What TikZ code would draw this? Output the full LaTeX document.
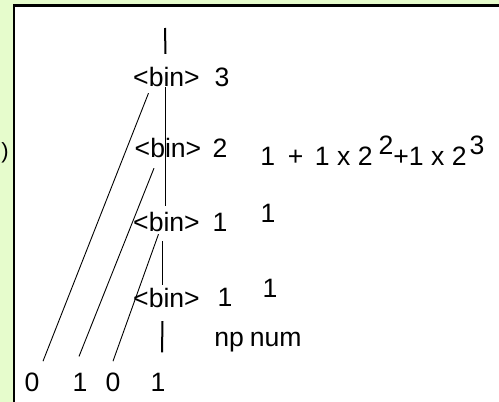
\documentclass[tikz,border=0pt]{standalone}
\usepackage{fontspec}
\setmainfont{Liberation Sans}
\definecolor{bggreen}{RGB}{230,252,204}
\begin{document}
\begin{tikzpicture}[x=0.5pt, y=-0.5pt,
		lbl/.style={font=\fontsize{13.3}{16}\selectfont, inner sep=0pt},
		thickline/.style={line width=1pt},
		thinline/.style={line width=0.45pt}]
			\useasboundingbox (0,0) rectangle (499,402);
			\clip (0,0) rectangle (499,402);
			% Khung
			\fill[bggreen] (0,0) rectangle (499,402);
			\filldraw[fill=white, draw=black, line width=1.35pt] (14,5.3) rectangle (540,440);
			\node[lbl, font=\fontsize{11}{13}\selectfont] (paren) at (5,153) {)};
			
			% Cac nut <bin>
			\coordinate (root) at (165,28);
			\node[lbl] (bin3) at (166.5,77) {<bin>};
			\node[lbl] (bin2) at (168,148) {<bin>};
			\node[lbl] (bin1) at (166.5,222) {<bin>};
			\node[lbl] (bin0) at (166.5,298) {<bin>};
			\node[lbl] (n3) at (222,77) {3};
			\node[lbl] (n2) at (220,148) {2};
			\node[lbl] (n1) at (220,222) {1};
			\node[lbl] (n0) at (225,297) {1};
			\node[lbl] (v1) at (268,213) {1};
			\node[lbl] (v0) at (270,288) {1};
			\node[lbl] (np) at (258,342) {np\hspace{3pt}num};
			\node[lbl, anchor=base west] (sum) at (260,165)
				{1\hspace{6.3pt}+\hspace{5.8pt}1 x 2\hspace{3pt}\raisebox{5.5pt}{2}+1 x 2\hspace{1.5pt}\raisebox{5.5pt}{3}};
			
			% Cac chu so
			\node[lbl] (d0) at (32,382) {0};
			\node[lbl] (d1) at (80,382) {1};
			\node[lbl] (d2) at (113,382) {0};
			\node[lbl] (d3) at (158,382) {1};
			
			% Duong thang dung
			\draw[thickline] (root) -- ([xshift=-0.5pt, yshift=6.5pt]bin3.north);
			\draw[thinline] ([xshift=-0.5pt]bin3.south) -- ([xshift=-0.5pt, yshift=3pt]bin1.north);
			\draw[thinline] ([xshift=-2pt, yshift=-4.5pt]bin1.south) -- ([xshift=-2pt, yshift=1.5pt]bin0.north);
			\draw[thickline] ([xshift=-2pt, yshift=-6.5pt]bin0.south) -- ([xshift=2pt, yshift=10pt]d3.north);
			
			% Duong xien
			\draw[thinline] ([xshift=5.5pt, yshift=5.5pt]d0.north) -- ([xshift=-9pt, yshift=-3pt]bin3.south);
			\draw[thinline] ([xshift=-0.5pt, yshift=8pt]d1.north) -- ([xshift=-7pt, yshift=-5pt]bin2.south);
			\draw[thinline] ([yshift=5.5pt]d2.north) -- ([xshift=-4pt, yshift=-1pt]bin1.south);
		\end{tikzpicture}
\end{document}
